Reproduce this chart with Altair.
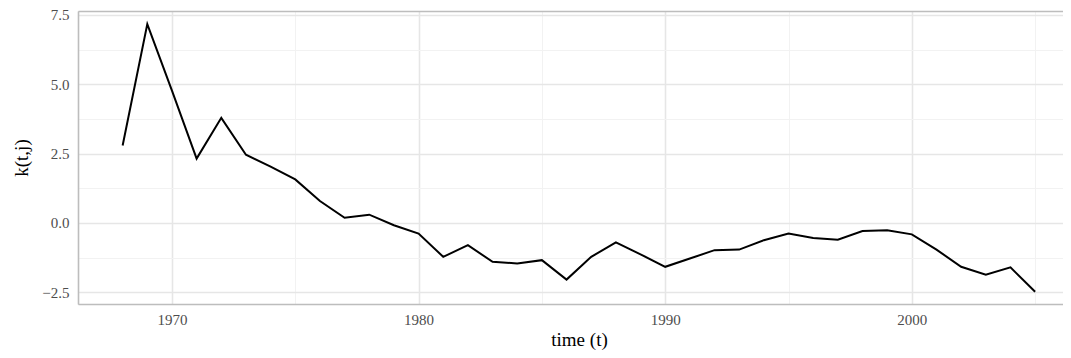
import altair as alt
import pandas as pd

years = list(range(1968, 2006))
kappa = [2.79, 7.17, 4.77, 2.32, 3.79, 2.46, 2.03, 1.57, 0.79, 0.19,
         0.30, -0.08, -0.38, -1.22, -0.80, -1.40, -1.46, -1.34, -2.04, -1.22,
         -0.70, -1.13, -1.58, -1.28, -0.98, -0.96, -0.62, -0.38, -0.54, -0.60,
         -0.29, -0.26, -0.41, -0.96, -1.58, -1.86, -1.60, -2.48]

x_ticks = [1970, 1975, 1980, 1985, 1990, 1995, 2000, 2005]
y_ticks = [-2.5, -1.25, 0.0, 1.25, 2.5, 3.75, 5.0, 6.25, 7.5]

df = pd.DataFrame({"time": years, "k": kappa})

FONT = "Liberation Serif"
MAJOR = "#e6e6e6"
MINOR = "#f2f2f2"
AXIS_COL = "#bdbdbd"

x_scale = alt.Scale(domain=[1966.19, 2006.13], nice=False, zero=False)
y_scale = alt.Scale(domain=[-2.92, 7.64], nice=False, zero=False)

x_axis = alt.Axis(
    values=x_ticks,
    labelExpr="datum.value % 10 === 0 ? format(datum.value, 'd') : ''",
    grid=True,
    gridColor={"condition": {"test": "datum.value % 10 === 0", "value": MAJOR}, "value": MINOR},
    gridWidth={"condition": {"test": "datum.value % 10 === 0", "value": 1.6}, "value": 1.0},
    ticks=False,
    domain=True, domainColor=AXIS_COL, domainWidth=1.6,
    labelFont=FONT, labelFontSize=15, labelColor="#4d4d4d", labelPadding=8,
    titleFont=FONT, titleFontSize=19, titleColor="#000000", titleFontWeight="normal",
    titlePadding=3, titleX=501,
)

y_axis = alt.Axis(
    values=y_ticks,
    labelExpr="datum.value % 2.5 === 0 ? format(datum.value, '.1f') : ''",
    grid=True,
    gridColor={"condition": {"test": "datum.value % 2.5 === 0", "value": MAJOR}, "value": MINOR},
    gridWidth={"condition": {"test": "datum.value % 2.5 === 0", "value": 1.6}, "value": 1.0},
    ticks=False,
    domain=True, domainColor=AXIS_COL, domainWidth=1.6,
    labelFont=FONT, labelFontSize=15, labelColor="#4d4d4d", labelPadding=9,
    titleFont=FONT, titleFontSize=19, titleColor="#000000", titleFontWeight="normal",
    titlePadding=10,
)

top_axis = alt.Axis(
    orient="top", labels=False, ticks=False, grid=False, title=None,
    domain=True, domainColor=AXIS_COL, domainWidth=1.6,
)

line = alt.Chart(df).mark_line(color="#000000", strokeWidth=2).encode(
    x=alt.X("time:Q", scale=x_scale, axis=x_axis, title="time (t)"),
    y=alt.Y("k:Q", scale=y_scale, axis=y_axis, title="k(t,j)"),
)

border = alt.Chart(df).mark_line(opacity=0).encode(
    x=alt.X("time:Q", scale=x_scale, axis=top_axis),
    y=alt.Y("k:Q", scale=y_scale, axis=None),
)

chart = (
    alt.layer(line, border)
    .resolve_axis(x="independent", y="independent")
    .properties(
        width=985, height=293,
        autosize=alt.AutoSizeParams(type="none"),
        padding={"left": 70, "top": 3, "right": 0, "bottom": 46},
    )
    .configure_view(strokeWidth=0)
    .configure(background="white")
)

chart.save("out.html", embed_options={"renderer": "svg", "actions": False})
